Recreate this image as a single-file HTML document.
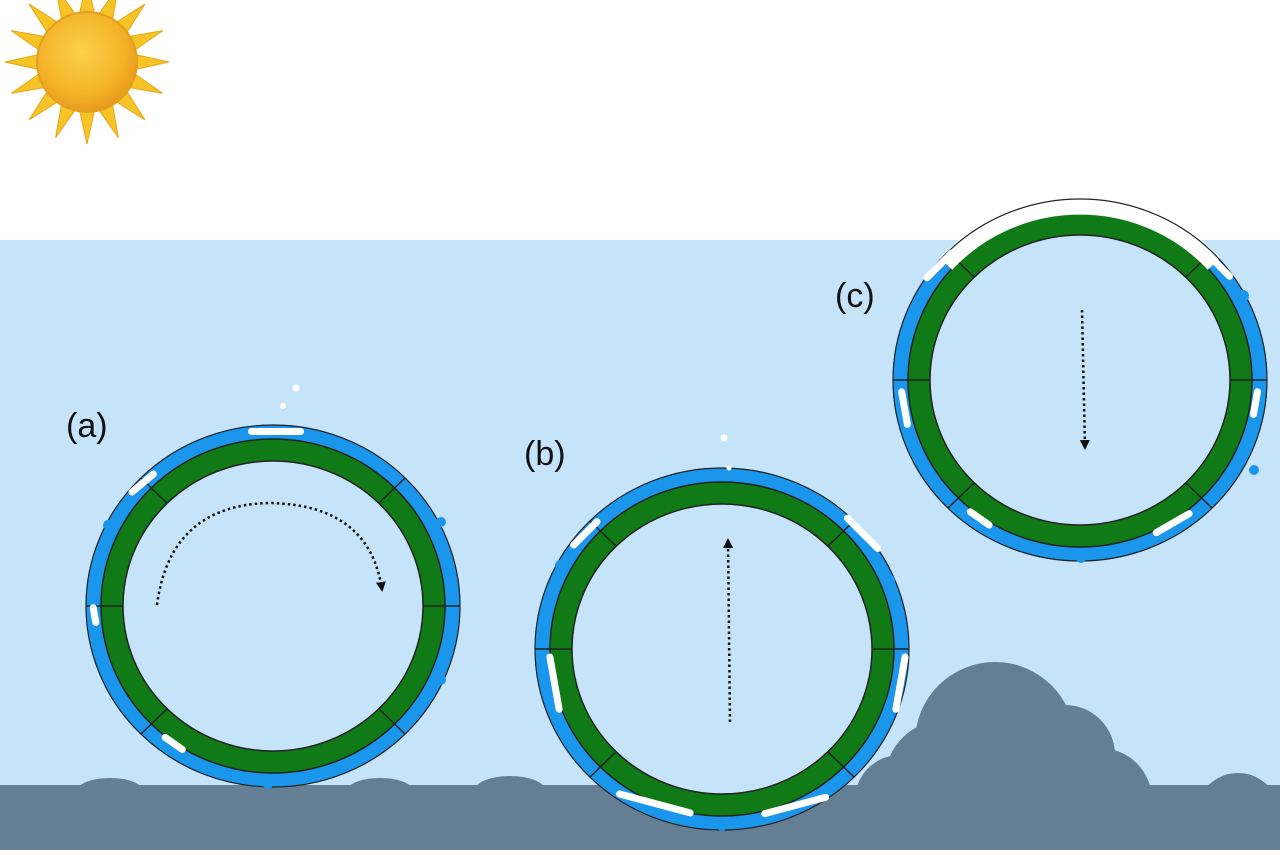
<!DOCTYPE html>
<html><head><meta charset="utf-8"><style>body{margin:0;width:1280px;height:850px;overflow:hidden;background:#fff}</style></head><body>
<svg width="1280" height="850" viewBox="0 0 1280 850" xmlns="http://www.w3.org/2000/svg">
<defs>
<radialGradient id="sg" cx="0.45" cy="0.4" r="0.6"><stop offset="0" stop-color="#fbd24a"/><stop offset="0.7" stop-color="#f4b32a"/><stop offset="1" stop-color="#e89b1c"/></radialGradient>
<marker id="ah" markerWidth="10" markerHeight="10" refX="8" refY="5" orient="auto" markerUnits="userSpaceOnUse"><path d="M0,0 L10,5 L0,10 z" fill="#111"/></marker>
<g id="ring">
<ellipse cx="0" cy="0" rx="150" ry="145" fill="#c6e4f9"/>
<ellipse cx="0" cy="0" rx="180" ry="174" fill="none" stroke="#1a96ec" stroke-width="15"/>
<ellipse cx="0" cy="0" rx="161" ry="156" fill="none" stroke="#0f7a16" stroke-width="22"/>
<ellipse cx="0" cy="0" rx="172" ry="167" fill="none" stroke="#222" stroke-width="1.5"/>
<ellipse cx="0" cy="0" rx="150" ry="145" fill="none" stroke="#222" stroke-width="1.5"/>
<g stroke="#222" stroke-width="1.5">
<line x1="-150" y1="0" x2="-187" y2="0"/><line x1="150" y1="0" x2="187" y2="0"/>
<line x1="-106" y1="-103" x2="-132" y2="-128"/><line x1="106" y1="-103" x2="132" y2="-128"/>
<line x1="-106" y1="103" x2="-132" y2="128"/><line x1="106" y1="103" x2="132" y2="128"/>
</g>
</g>
</defs>
<rect x="0" y="240" width="1280" height="610" fill="#c6e4f9"/>
<!-- sun -->
<g transform="translate(87,62)">
<g fill="#f7c425" stroke="#e8a41a" stroke-width="1">
<polygon points="0,-82 8,-46 -8,-46"/>
<polygon points="0,-82 8,-46 -8,-46" transform="rotate(22.5)"/>
<polygon points="0,-82 8,-46 -8,-46" transform="rotate(45)"/>
<polygon points="0,-82 8,-46 -8,-46" transform="rotate(67.5)"/>
<polygon points="0,-82 8,-46 -8,-46" transform="rotate(90)"/>
<polygon points="0,-82 8,-46 -8,-46" transform="rotate(112.5)"/>
<polygon points="0,-82 8,-46 -8,-46" transform="rotate(135)"/>
<polygon points="0,-82 8,-46 -8,-46" transform="rotate(157.5)"/>
<polygon points="0,-82 8,-46 -8,-46" transform="rotate(180)"/>
<polygon points="0,-82 8,-46 -8,-46" transform="rotate(202.5)"/>
<polygon points="0,-82 8,-46 -8,-46" transform="rotate(225)"/>
<polygon points="0,-82 8,-46 -8,-46" transform="rotate(247.5)"/>
<polygon points="0,-82 8,-46 -8,-46" transform="rotate(270)"/>
<polygon points="0,-82 8,-46 -8,-46" transform="rotate(292.5)"/>
<polygon points="0,-82 8,-46 -8,-46" transform="rotate(315)"/>
<polygon points="0,-82 8,-46 -8,-46" transform="rotate(337.5)"/>
</g>
<circle r="50" fill="url(#sg)" stroke="#e0a020" stroke-width="2"/>
</g>
<!-- ground -->
<g fill="#647f93">
<rect x="0" y="785" width="1280" height="65"/>
<ellipse cx="110" cy="790" rx="32" ry="12"/>
<ellipse cx="380" cy="790" rx="32" ry="12"/>
<ellipse cx="510" cy="790" rx="35" ry="14"/>
<circle cx="995" cy="742" r="80"/>
<circle cx="1065" cy="755" r="50"/>
<circle cx="1100" cy="800" r="52"/>
<circle cx="945" cy="780" r="60"/>
<circle cx="900" cy="800" r="45"/>
<circle cx="1238" cy="815" r="42"/>
<rect x="870" y="785" width="410" height="65"/>
</g>
<!-- rings -->
<use href="#ring" transform="translate(273,606)"/>
<use href="#ring" transform="translate(722,649)"/>
<use href="#ring" transform="translate(1080,380)"/>
<!-- white top arc of c -->
<path d="M946,264 A180,174 0 0 1 1214,264" fill="none" stroke="#fff" stroke-width="17"/>
<g fill="none" stroke="#222" stroke-width="1.2">
<ellipse cx="273" cy="606" rx="187" ry="181"/>
<ellipse cx="722" cy="649" rx="187" ry="181"/>
<ellipse cx="1080" cy="380" rx="187" ry="181"/>
</g>
<!-- bubbles -->
<g fill="#fff">
<circle cx="296" cy="388" r="3.5"/><circle cx="283" cy="406" r="3"/><circle cx="724" cy="438" r="3.5"/><circle cx="729" cy="468" r="2.5"/>
<rect x="248" y="428" width="56" height="7" rx="3.5"/>
<rect x="125" y="480" width="35" height="7" rx="3.5" transform="rotate(-40 142 483)"/>
<rect x="84" y="612" width="22" height="7" rx="3.5" transform="rotate(80 95 615)"/>
<rect x="160" y="740" width="28" height="7" rx="3.5" transform="rotate(35 174 743)"/>
<rect x="565" y="530" width="40" height="7" rx="3.5" transform="rotate(-45 585 533)"/>
<rect x="838" y="530" width="50" height="7" rx="3.5" transform="rotate(45 863 533)"/>
<rect x="525" y="680" width="60" height="7" rx="3.5" transform="rotate(80 555 683)"/>
<rect x="870" y="680" width="60" height="7" rx="3.5" transform="rotate(-80 900 683)"/>
<rect x="615" y="800" width="80" height="7" rx="3.5" transform="rotate(15 655 803)"/>
<rect x="760" y="802" width="70" height="7" rx="3.5" transform="rotate(-15 795 805)"/>
<rect x="918" y="262" width="42" height="7" rx="3.5" transform="rotate(-45 939 265)"/>
<rect x="1200" y="262" width="38" height="7" rx="3.5" transform="rotate(45 1219 265)"/>
<rect x="885" y="405" width="40" height="7" rx="3.5" transform="rotate(80 905 408)"/>
<rect x="1240" y="400" width="30" height="7" rx="3.5" transform="rotate(-80 1255 403)"/>
<rect x="965" y="515" width="30" height="7" rx="3.5" transform="rotate(35 980 518)"/>
<rect x="1150" y="520" width="45" height="7" rx="3.5" transform="rotate(-30 1172 523)"/>
</g>
<!-- blue blobs -->
<g fill="#1a96ec"><circle cx="441" cy="522" r="5"/><circle cx="441" cy="680" r="5"/><circle cx="108" cy="525" r="5"/><circle cx="268" cy="784" r="5"/><circle cx="560" cy="565" r="5"/><circle cx="890" cy="580" r="5"/><circle cx="722" cy="826" r="5"/><circle cx="1243" cy="296" r="6"/><circle cx="918" cy="455" r="5"/><circle cx="1081" cy="558" r="5"/><circle cx="1254" cy="470" r="5"/></g>
<!-- arrows -->
<g fill="none" stroke="#111" stroke-width="2.5" stroke-dasharray="2.5 3">
<path d="M157,605 Q170,505 270,503 Q370,505 382,590" marker-end="url(#ah)"/>
<line x1="730" y1="722" x2="728" y2="540" marker-end="url(#ah)"/>
<line x1="1082" y1="310" x2="1085" y2="448" marker-end="url(#ah)"/>
</g>
<g font-family="Liberation Sans, sans-serif" font-size="34" fill="#111">
<text x="66" y="437">(a)</text><text x="524" y="465">(b)</text><text x="835" y="307">(c)</text>
</g>
</svg>
</body></html>
